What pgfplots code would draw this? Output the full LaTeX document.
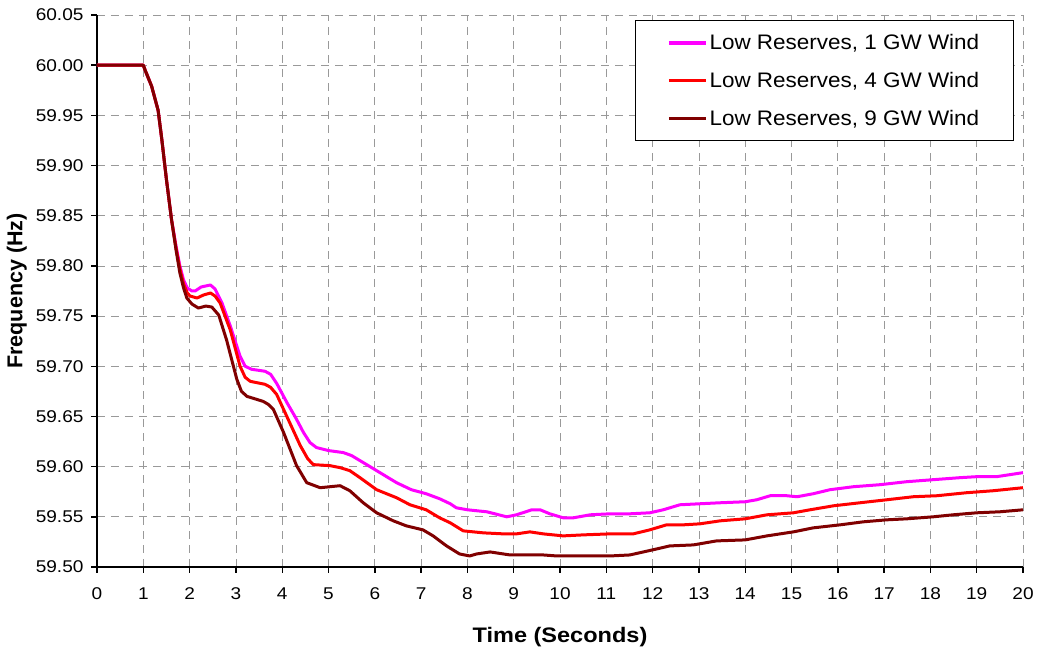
\documentclass[border=0pt]{standalone}
\usepackage{pgfplots}
\pgfplotsset{compat=1.18}
\usepackage{fontspec}
\setmainfont{Liberation Sans}
\newfontfamily\tickfont[FakeStretch=1.12]{Liberation Sans}
\newfontfamily\legfont[FakeStretch=1.07]{Liberation Sans}
\newfontfamily\xlabfont[FakeStretch=1.12]{Liberation Sans}

\definecolor{lowone}{RGB}{255,0,255}
\definecolor{lowfour}{RGB}{255,0,0}
\definecolor{lownine}{RGB}{128,0,0}

\begin{document}
\begin{tikzpicture}
  \begin{axis}[
      name=ax,
      scale only axis,
      width=926pt, height=552pt,
      xmin=0, xmax=20,
      ymin=59.5, ymax=60.05,
      xtick={0,1,...,20},
      ytick={59.50,59.55,59.60,59.65,59.70,59.75,59.80,59.85,59.90,59.95,60.00,60.05},
      axis x line*=bottom,
      axis y line*=left,
      axis line style={-, line width=1.6pt, black},
      tick align=outside,
      major tick length=6pt,
      tick style={line width=1.4pt, black},
      grid=major,
      grid style={gray!80, line width=0.8pt, dash pattern=on 8pt off 6pt},
      /pgf/number format/assume math mode=true,
      yticklabel={\pgfmathprintnumber[fixed,fixed zerofill,precision=2]{\tick}},
      ticklabel style={font=\tickfont\fontsize{17}{20}\selectfont},
      yticklabel style={xshift=-4pt},
      xticklabel style={yshift=-11pt},
      xlabel={\textbf{Time (Seconds)}},
      ylabel={\textbf{Frequency (Hz)}},
      xlabel style={font=\xlabfont\fontsize{21}{24}\selectfont, yshift=-21pt},
      ylabel style={font=\fontsize{21.5}{24}\selectfont, yshift=2pt},
      legend cell align=left,
      legend style={
        at={(0.990,0.991)}, anchor=north east,
        draw=black, line width=1pt, fill=white,
        font=\legfont\fontsize{21}{24}\selectfont,
        inner xsep=32pt, inner ysep=12pt,
        row sep=17pt,
        nodes={inner sep=2pt},
      },
      legend image code/.code={\draw[#1, line width=3.5pt] (0pt,0pt) -- (37pt,0pt);},
      every axis plot/.append style={line width=3pt, line join=round},
  ]

  \addplot[color=lowone] coordinates {
    (0,60.000)(1.0,60.000)(1.04,59.995)(1.18,59.979)(1.32,59.955)(1.40,59.926)(1.50,59.886)
    (1.61,59.846)(1.71,59.819)(1.79,59.800)(1.87,59.786)(1.95,59.778)(2.05,59.775)(2.12,59.775)
    (2.25,59.779)(2.45,59.781)(2.55,59.777)(2.70,59.763)(2.88,59.740)(3.09,59.710)(3.20,59.700)
    (3.34,59.697)(3.63,59.695)(3.75,59.692)(3.88,59.683)(4.10,59.664)(4.30,59.648)(4.46,59.634)
    (4.60,59.624)(4.74,59.619)(5.0,59.616)(5.32,59.614)(5.50,59.611)(5.68,59.606)(6.04,59.596)
    (6.47,59.584)(6.79,59.577)(7.11,59.573)(7.40,59.568)(7.63,59.563)(7.76,59.559)(8.0,59.557)
    (8.42,59.555)(8.85,59.550)(9.06,59.552)(9.39,59.557)(9.57,59.557)(9.78,59.553)(10.07,59.549)
    (10.29,59.549)(10.65,59.552)(11.08,59.553)(11.51,59.553)(11.94,59.554)(12.23,59.557)
    (12.59,59.562)(13.02,59.563)(13.46,59.564)(14.0,59.565)(14.25,59.567)(14.54,59.571)
    (14.90,59.571)(15.12,59.570)(15.47,59.573)(15.83,59.577)(16.34,59.580)(16.91,59.582)
    (17.49,59.585)(18.06,59.587)(18.64,59.589)(19.0,59.590)(19.43,59.590)(20,59.594)
  };
  \addlegendentry{Low Reserves, 1 GW Wind}

  \addplot[color=lowfour] coordinates {
    (0,60.000)(1.0,60.000)(1.04,59.995)(1.18,59.979)(1.32,59.955)(1.40,59.926)(1.50,59.886)
    (1.61,59.846)(1.71,59.817)(1.79,59.797)(1.87,59.782)(1.95,59.773)(2.01,59.770)(2.16,59.768)
    (2.30,59.771)(2.45,59.773)(2.55,59.770)(2.66,59.763)(2.88,59.736)(3.09,59.700)(3.20,59.689)
    (3.31,59.685)(3.63,59.682)(3.75,59.679)(3.88,59.672)(4.10,59.650)(4.39,59.621)(4.55,59.608)
    (4.67,59.602)(5.03,59.601)(5.25,59.599)(5.46,59.596)(5.68,59.589)(6.04,59.577)(6.47,59.569)
    (6.76,59.562)(7.11,59.557)(7.40,59.549)(7.63,59.544)(7.91,59.536)(8.35,59.534)(8.78,59.533)
    (9.06,59.533)(9.35,59.535)(9.64,59.533)(10.07,59.531)(10.50,59.532)(11.08,59.533)
    (11.58,59.533)(11.94,59.537)(12.30,59.542)(12.66,59.542)(13.02,59.543)(13.46,59.546)
    (14.0,59.548)(14.47,59.552)(15.04,59.554)(15.40,59.557)(15.91,59.561)(16.48,59.564)
    (17.06,59.567)(17.63,59.570)(18.14,59.571)(18.78,59.574)(19.36,59.576)(20,59.579)
  };
  \addlegendentry{Low Reserves, 4 GW Wind}

  \addplot[color=lownine] coordinates {
    (0,60.000)(1.0,60.000)(1.04,59.995)(1.18,59.979)(1.32,59.955)(1.40,59.926)(1.50,59.886)
    (1.61,59.846)(1.71,59.815)(1.79,59.793)(1.87,59.778)(1.94,59.768)(2.05,59.762)(2.19,59.758)
    (2.35,59.760)(2.48,59.759)(2.63,59.751)(2.80,59.726)(3.02,59.687)(3.12,59.675)(3.24,59.670)
    (3.59,59.665)(3.70,59.662)(3.81,59.657)(4.03,59.634)(4.31,59.601)(4.53,59.584)(4.82,59.579)
    (5.25,59.581)(5.46,59.576)(5.75,59.564)(6.04,59.554)(6.40,59.546)(6.68,59.541)(7.04,59.537)
    (7.26,59.531)(7.55,59.521)(7.83,59.513)(8.05,59.511)(8.20,59.513)(8.49,59.515)(8.92,59.512)
    (9.64,59.512)(9.93,59.511)(10.29,59.511)(11.08,59.511)(11.51,59.512)(11.80,59.515)
    (12.09,59.518)(12.37,59.521)(12.88,59.522)(13.38,59.526)(14.0,59.527)(14.47,59.531)
    (15.04,59.535)(15.47,59.539)(16.05,59.542)(16.55,59.545)(17.06,59.547)(17.49,59.548)
    (18.06,59.550)(18.49,59.552)(19.0,59.554)(19.50,59.555)(20,59.557)
  };
  \addlegendentry{Low Reserves, 9 GW Wind}

  \end{axis}
  \path ([xshift=-97pt,yshift=-83pt]ax.south west) rectangle ([xshift=15pt,yshift=15pt]ax.north east);
\end{tikzpicture}
\end{document}
